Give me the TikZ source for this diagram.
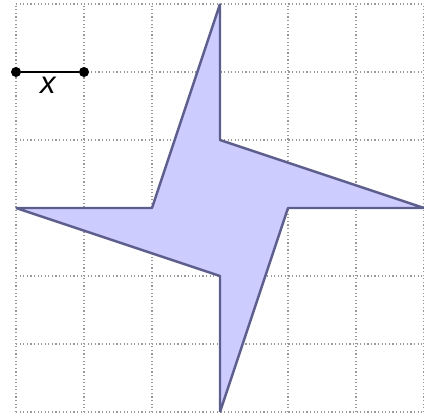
\documentclass[tikz,border=0pt]{standalone}
\usepackage{fontspec}
\setsansfont{Liberation Sans}
\usepackage{tikz}
\usetikzlibrary{arrows.meta, positioning, calc, }
\definecolor{preench}{HTML}{CCCCFF}
\definecolor{borda}{HTML}{5E5E8C}
\tikzset{
  malha/.style={gray!80, densely dotted, line width=0.5pt},
  ponto/.style={circle, fill=black, inner sep=0pt, minimum size=4.2pt},
}

\begin{document}
\begin{tikzpicture}[>=latex]
    \useasboundingbox (-0.2353, -0.0294) rectangle (6, 6.0588);

    % malha
    \draw[malha] (0, 0) grid (6, 6);

    % vértices da estrela
    \coordinate (A) at (3, 6);
    \coordinate (B) at (3, 4);
    \coordinate (C) at (6, 3);
    \coordinate (D) at (4, 3);
    \coordinate (E) at (3, 0);
    \coordinate (F) at (3, 2);
    \coordinate (G) at (0, 3);
    \coordinate (H) at (2, 3);

    \filldraw[fill=preench, draw=borda, line width=1pt, line join=bevel]
      (A) -- (B) -- (C) -- (D) -- (E) -- (F) -- (G) -- (H) -- cycle;

    % escala
    \node[ponto] (P1) at (0, 5) {};
    \node[ponto] (P2) at (1, 5) {};
    \draw[line width=1.1pt] (P1) -- (P2);
    \node[font=\sffamily\itshape\fontsize{13}{15}\selectfont] (lx) at (0.47, 4.8) {x};

\end{tikzpicture}
\end{document}
